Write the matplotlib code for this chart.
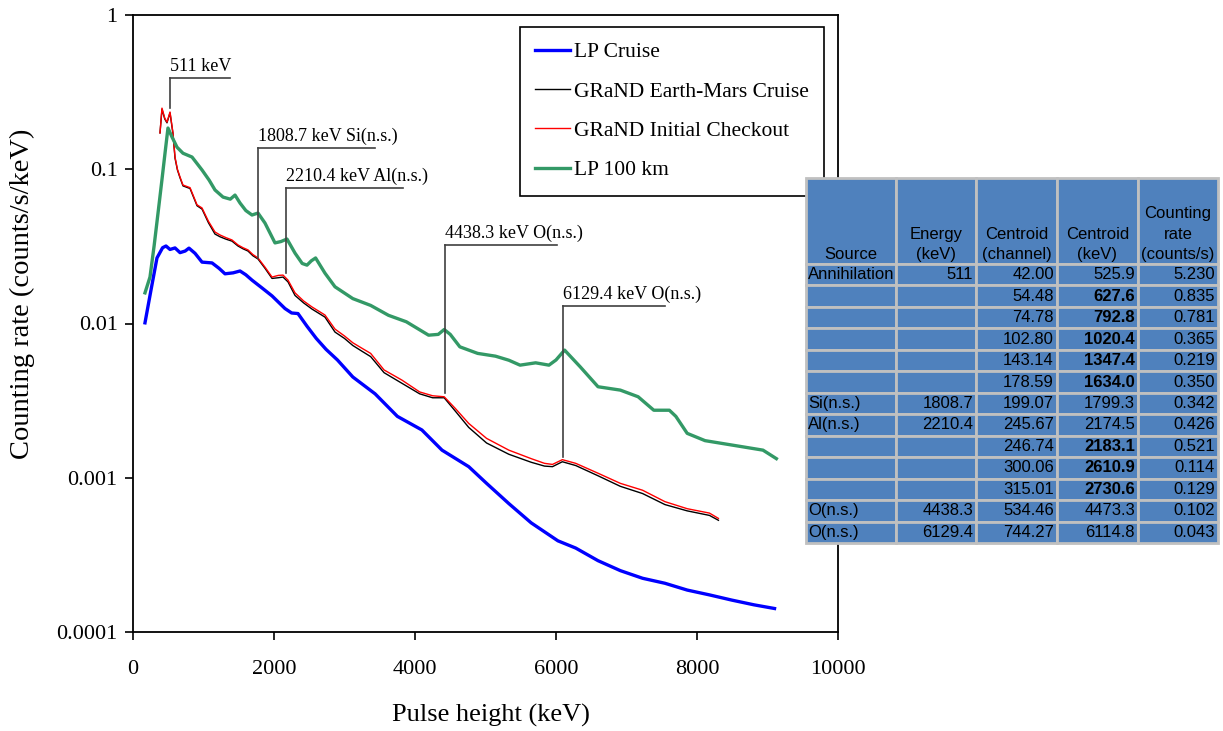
import numpy as np
import matplotlib
matplotlib.use("Agg")
import matplotlib.pyplot as plt
from matplotlib.patches import Rectangle
from matplotlib.ticker import FixedLocator, FixedFormatter, NullLocator

plt.rcParams['font.family'] = ['Liberation Serif', 'DejaVu Serif']

# LP Cruise
lp_cruise_kev = [170, 250, 340, 420, 468, 525, 596, 667, 740, 794, 880, 979, 1121, 1220, 1305,
                 1420, 1518, 1600, 1688, 1830, 1972, 2156, 2250, 2340, 2468, 2600, 2738, 2900,
                 3118, 3434, 3750, 4098, 4383, 4762, 5015, 5331, 5648, 6027, 6280, 6596, 6912,
                 7228, 7545, 7861, 8177, 8493, 8809, 9100]
lp_cruise_rate = [0.0101, 0.016, 0.0266, 0.031, 0.0318, 0.0302, 0.0309, 0.0288, 0.0295, 0.0308,
                  0.0285, 0.0250, 0.0247, 0.0228, 0.0210, 0.0213, 0.0219, 0.0207, 0.0191, 0.0170,
                  0.0151, 0.0125, 0.0117, 0.0116, 0.0096, 0.0080, 0.0068, 0.0058, 0.0045, 0.0035,
                  0.0025, 0.00204, 0.00151, 0.00118, 0.00092, 0.00068, 0.00051, 0.00039, 0.00035,
                  0.00029, 0.00025, 0.000223, 0.000207, 0.000187, 0.000174, 0.000161, 0.000150,
                  0.000142]

# GRaND initial checkout
grand_kev = [383, 411, 450, 482, 525, 567, 596, 630, 667, 709, 809, 908, 979, 1070, 1163, 1234,
             1320, 1404, 1489, 1560, 1631, 1700, 1773, 1872, 1972, 2060, 2128, 2199, 2298, 2420,
             2539, 2723, 2865, 3000, 3118, 3250, 3371, 3561, 3813, 4066, 4250, 4414, 4573, 4762,
             5015, 5331, 5648, 5837, 5950, 6090, 6280, 6596, 6912, 7228, 7545, 7861, 8177, 8304]
grand_init_rate = [0.172, 0.249, 0.215, 0.202, 0.235, 0.172, 0.120, 0.100, 0.089, 0.079, 0.076,
                   0.0588, 0.0561, 0.046, 0.0392, 0.0375, 0.036, 0.0348, 0.0323, 0.031, 0.0300,
                   0.028, 0.0266, 0.0232, 0.0200, 0.0205, 0.0206, 0.0191, 0.0158, 0.0140, 0.0128,
                   0.01135, 0.0092, 0.0083, 0.0075, 0.0069, 0.0064, 0.0050, 0.0043, 0.0036, 0.0034,
                   0.00335, 0.00281, 0.00225, 0.00180, 0.00151, 0.00133, 0.00124, 0.00122, 0.00131,
                   0.00124, 0.00107, 0.00092, 0.00083, 0.00070, 0.00063, 0.00059, 0.000545]
# GRaND Earth-Mars cruise
grand_cruise_rate = [0.172, 0.245, 0.212, 0.200, 0.232, 0.170, 0.118, 0.099, 0.088, 0.078, 0.075,
                     0.0580, 0.0552, 0.045, 0.0380, 0.0365, 0.0352, 0.0342, 0.0318, 0.0305, 0.0295,
                     0.0275, 0.0262, 0.0228, 0.0196, 0.0198, 0.0200, 0.0186, 0.0152, 0.0136, 0.0124,
                     0.0110, 0.0088, 0.0080, 0.0072, 0.0066, 0.0061, 0.0048, 0.0041, 0.0035, 0.0033,
                     0.0033, 0.0027, 0.00212, 0.00168, 0.00142, 0.00126, 0.00119, 0.00118, 0.00127,
                     0.00120, 0.00103, 0.00088, 0.00079, 0.00067, 0.00061, 0.00057, 0.00053]

# LP 100 km
lp100_kev = [170, 241, 300, 355, 410, 454, 496, 553, 624, 709, 837, 979, 1080, 1163, 1277, 1380,
             1447, 1518, 1600, 1688, 1773, 1872, 2014, 2100, 2184, 2298, 2400, 2468, 2530, 2590,
             2723, 2865, 3118, 3371, 3624, 3877, 4193, 4330, 4414, 4500, 4636, 4889, 5142, 5331,
             5490, 5711, 5900, 6000, 6122, 6343, 6596, 6912, 7165, 7387, 7608, 7700, 7861, 8114,
             8493, 8936, 9126]
lp100_rate = [0.0158, 0.020, 0.032, 0.052, 0.085, 0.127, 0.185, 0.162, 0.139, 0.127, 0.120, 0.0989,
              0.085, 0.0734, 0.066, 0.064, 0.068, 0.0604, 0.054, 0.0505, 0.052, 0.0448, 0.0333,
              0.034, 0.0353, 0.0286, 0.0245, 0.0239, 0.0255, 0.0266, 0.0212, 0.0173, 0.0145, 0.0131,
              0.0113, 0.01026, 0.0084, 0.0085, 0.00914, 0.0085, 0.00706, 0.0064, 0.00614, 0.00578,
              0.00537, 0.00556, 0.00537, 0.0058, 0.00672, 0.00524, 0.00389, 0.0037, 0.00335,
              0.00274, 0.00274, 0.0025, 0.00194, 0.00174, 0.00163, 0.00151, 0.00133]

# line annotations: label, x (keV), bottom, top, line length (keV)
peak_labels = ["511 keV", "1808.7 keV Si(n.s.)", "2210.4 keV Al(n.s.)",
               "4438.3 keV O(n.s.)", "6129.4 keV O(n.s.)"]
peak_x = [525, 1775, 2170, 4430, 6100]
peak_bottom = [0.249, 0.0266, 0.0212, 0.00354, 0.00136]
peak_top = [0.391, 0.137, 0.0755, 0.0323, 0.0130]
peak_len = [850, 1660, 1660, 1590, 1450]

# table
tbl_header = ["Source", "Energy\n(keV)", "Centroid\n(channel)", "Centroid\n(keV)",
              "Counting\nrate\n(counts/s)"]
tbl_source = ["Annihilation", "", "", "", "", "", "Si(n.s.)", "Al(n.s.)", "", "", "",
              "O(n.s.)", "O(n.s.)"]
tbl_energy = ["511", "", "", "", "", "", "1808.7", "2210.4", "", "", "", "4438.3", "6129.4"]
tbl_channel = ["42.00", "54.48", "74.78", "102.80", "143.14", "178.59", "199.07", "245.67",
               "246.74", "300.06", "315.01", "534.46", "744.27"]
tbl_centroid = ["525.9", "627.6", "792.8", "1020.4", "1347.4", "1634.0", "1799.3", "2174.5",
                "2183.1", "2610.9", "2730.6", "4473.3", "6114.8"]
tbl_bold = [False, True, True, True, True, True, False, False, True, True, True, False, False]
tbl_rate = ["5.230", "0.835", "0.781", "0.365", "0.219", "0.350", "0.342", "0.426", "0.521",
            "0.114", "0.129", "0.102", "0.043"]

W, H = 1223, 731
fig = plt.figure(figsize=(W / 100, H / 100), dpi=100)
ax = fig.add_axes([133 / W, 1 - 632 / H, 705 / W, 617 / H])

ax.plot(lp_cruise_kev, lp_cruise_rate, color='#0000FF', lw=2.4, label='LP Cruise')
ax.plot(grand_kev, grand_cruise_rate, color='black', lw=1.0, label='GRaND Earth-Mars Cruise')
ax.plot(grand_kev, grand_init_rate, color='#FF0000', lw=1.0, label='GRaND Initial Checkout')
ax.plot(lp100_kev, lp100_rate, color='#339966', lw=2.4, label='LP 100 km')

for lab, xp, yb, yt, ln in zip(peak_labels, peak_x, peak_bottom, peak_top, peak_len):
    ax.plot([xp, xp], [yb, yt], color='#404040', lw=1.2)
    ax.plot([xp, xp + ln], [yt, yt], color='#404040', lw=1.2)
    ax.annotate(lab, (xp, yt), xytext=(0, 2), textcoords='offset points',
                ha='left', va='bottom', fontsize=13)

ax.set_yscale('log')
ax.set_xlim(0, 10000)
ax.set_ylim(1e-4, 1)
ax.set_xticks(range(0, 10001, 2000))
ax.yaxis.set_major_locator(FixedLocator([1e-4, 1e-3, 1e-2, 1e-1, 1]))
ax.yaxis.set_major_formatter(FixedFormatter(["0.0001", "0.001", "0.01", "0.1", "1"]))
ax.yaxis.set_minor_locator(NullLocator())
ax.tick_params(axis='both', direction='out', length=6, width=1.2, labelsize=16)
ax.tick_params(axis='x', pad=14)
ax.tick_params(axis='y', pad=5)
for s in ax.spines.values():
    s.set_linewidth(1.3)

fig.text(491 / W, 1 - 715 / H, "Pulse height (keV)", ha='center', va='center', fontsize=19)
fig.text(22 / W, 1 - 294 / H, "Counting rate (counts/s/keV)", ha='center', va='center',
         rotation=90, fontsize=20.5)

leg = ax.legend(loc='upper right', bbox_to_anchor=(824 / W, 1 - 27 / H),
                bbox_transform=fig.transFigure, fontsize=15.5, frameon=True, fancybox=False,
                framealpha=1, edgecolor='black', handlelength=1.6, handletextpad=0.2,
                labelspacing=0.9, borderpad=0.7, borderaxespad=0)
leg.get_frame().set_linewidth(1.2)

# table drawn in figure pixels
col_edges = [806, 896, 976, 1057, 1138, 1218]
top, head_bot, bot = 178, 264, 543
row_h = (bot - head_bot) / len(tbl_source)

def px(x, y):
    return x / W, 1 - y / H

def cell(x0, y0, x1, y1):
    fig.patches.append(Rectangle(px(x0, y1), (x1 - x0) / W, (y1 - y0) / H,
                                 transform=fig.transFigure, facecolor='#4F81BD',
                                 edgecolor='#C0C0C0', lw=2, zorder=5))

tfont = dict(family='Liberation Sans', fontsize=12, zorder=6)
for j in range(5):
    cell(col_edges[j], top, col_edges[j + 1], head_bot)
    xc = (col_edges[j] + col_edges[j + 1]) / 2
    fig.text(*px(xc, head_bot - 2), tbl_header[j], ha='center', va='bottom',
             multialignment='center', linespacing=1.45, **tfont)

columns = [tbl_source, tbl_energy, tbl_channel, tbl_centroid, tbl_rate]
for i in range(len(tbl_source)):
    y0 = head_bot + i * row_h
    yc = y0 + row_h / 2
    for j in range(5):
        cell(col_edges[j], y0, col_edges[j + 1], y0 + row_h)
        txt = columns[j][i]
        if not txt:
            continue
        weight = 'bold' if (j == 3 and tbl_bold[i]) else 'normal'
        if j == 0:
            fig.text(*px(col_edges[j] + 2, yc), txt, ha='left', va='center',
                     fontweight=weight, **tfont)
        else:
            fig.text(*px(col_edges[j + 1] - 3, yc), txt, ha='right', va='center',
                     fontweight=weight, **tfont)

fig.savefig("out.png", dpi=100)
